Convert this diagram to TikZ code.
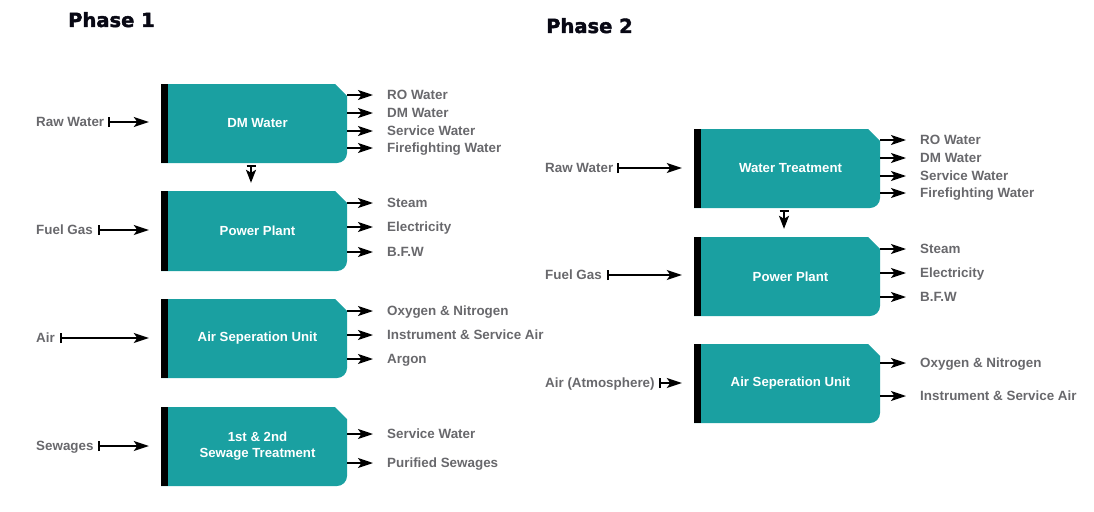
\documentclass[tikz,border=0pt]{standalone}
\usepackage{fontspec}
\setmainfont{Liberation Sans}
\newfontfamily\titlefont{DejaVu Sans}[BoldFeatures={FakeBold=2}]
\usetikzlibrary{arrows.meta}
\definecolor{boxteal}{RGB}{26,160,161}
\definecolor{lblgray}{RGB}{104,104,108}
\definecolor{titleblk}{RGB}{8,8,20}
\tikzset{
  lbl/.style={inner sep=0pt, anchor=west, text=lblgray, font=\fontsize{13.4}{16}\selectfont\bfseries, text height=9.6pt, text depth=0pt},
  boxtxt/.style={inner sep=0pt, text=white, font=\fontsize{13.2}{16}\selectfont\bfseries, align=center},
  ttl/.style={inner sep=0pt, anchor=west, text=titleblk, font=\fontsize{19.5}{22}\selectfont\titlefont\bfseries, text height=14pt, text depth=0pt},
  outarr/.style={line width=1.8pt, -{Stealth[length=15pt,width=10pt,inset=3.5pt]}},
  inarr/.style={line width=1.8pt, {Bar[width=10pt]}-{Stealth[length=15pt,width=10pt,inset=3.5pt]}},
  downarr/.style={line width=1.8pt, {Bar[width=9pt]}-{Stealth[length=13pt,width=10pt,inset=3pt]}}
}
% #1 name, #2 x0, #3 y0, #4 x1, #5 y1, #6 text
\newcommand{\procbox}[6]{%
  \fill[boxteal] (#2,#3) -- ({#4-12},#3) -- (#4,{#3+12}) [rounded corners=10pt] -- (#4,#5) [sharp corners] -- (#2,#5) -- cycle;
  \fill[black] (#2,#3) rectangle ({#2+7},#5);
  \node[boxtxt, minimum width={#4-#2-7}, minimum height={#5-#3}] (#1) at ({(#2+7+#4)/2},{(#3+#5)/2}) {#6};
}
\begin{document}
\begin{tikzpicture}[x=1pt,y=-1pt]
\useasboundingbox (0,0) rectangle (1094,511);
% titles
\node[ttl] (t1) at (68,20) {Phase 1};
\node[ttl] (t2) at (546,26) {Phase 2};

% ---------- Phase 1 ----------
\procbox{a1}{161}{84}{347}{163}{DM Water}
\procbox{a2}{161}{191}{347}{271}{Power Plant}
\procbox{a3}{161}{299}{347}{378}{Air Seperation Unit}
\procbox{a4}{161}{407}{347}{486}{1st \& 2nd\\Sewage Treatment}

\node[lbl] (ia1) at (36,122) {Raw Water};
\node[lbl] (ia2) at (36,230) {Fuel Gas};
\node[lbl] (ia3) at (36,338) {Air};
\node[lbl] (ia4) at (36,446) {Sewages};
\draw[inarr] ([xshift=4pt]ia1.east) -- ([xshift=-19pt]a1.west |- ia1.east);
\draw[inarr] ([xshift=5pt]ia2.east) -- ([xshift=-19pt]a2.west |- ia2.east);
\draw[inarr] ([xshift=5pt]ia3.east) -- ([xshift=-19pt]a3.west |- ia3.east);
\draw[inarr] ([xshift=4pt]ia4.east) -- ([xshift=-19pt]a4.west |- ia4.east);

\node[lbl] (oa11) at (387,95) {RO Water};
\node[lbl] (oa12) at (387,113) {DM Water};
\node[lbl] (oa13) at (387,131) {Service Water};
\node[lbl] (oa14) at (387,148) {Firefighting Water};
\node[lbl] (oa21) at (387,203) {Steam};
\node[lbl] (oa22) at (387,227) {Electricity};
\node[lbl] (oa23) at (387,252) {B.F.W};
\node[lbl] (oa31) at (387,311) {Oxygen \& Nitrogen};
\node[lbl] (oa32) at (387,335) {Instrument \& Service Air};
\node[lbl] (oa33) at (387,359) {Argon};
\node[lbl] (oa41) at (387,434) {Service Water};
\node[lbl] (oa42) at (387,463) {Purified Sewages};
\foreach \b/\o in {a1/oa11,a1/oa12,a1/oa13,a1/oa14,a2/oa21,a2/oa22,a2/oa23,a3/oa31,a3/oa32,a3/oa33,a4/oa41,a4/oa42}
  \draw[outarr] (\b.east |- \o.west) -- ([xshift=-14pt]\o.west);

\draw[downarr] ([xshift=-6.5pt,yshift=-1.5pt]a1.south) -- ([xshift=-6.5pt,yshift=8pt]a2.north);

% ---------- Phase 2 ----------
\procbox{b1}{694}{129}{880}{208}{Water Treatment}
\procbox{b2}{694}{237}{880}{316}{Power Plant}
\procbox{b3}{694}{344}{880}{423}{Air Seperation Unit}

\node[lbl] (ib1) at (545,168) {Raw Water};
\node[lbl] (ib2) at (545,275) {Fuel Gas};
\node[lbl] (ib3) at (545,383) {Air (Atmosphere)};
\draw[inarr] ([xshift=4pt]ib1.east) -- ([xshift=-19pt]b1.west |- ib1.east);
\draw[inarr] ([xshift=5pt]ib2.east) -- ([xshift=-19pt]b2.west |- ib2.east);
\draw[inarr] ([xshift=4pt]ib3.east) -- ([xshift=-19pt]b3.west |- ib3.east);

\node[lbl] (ob11) at (920,140) {RO Water};
\node[lbl] (ob12) at (920,158) {DM Water};
\node[lbl] (ob13) at (920,176) {Service Water};
\node[lbl] (ob14) at (920,193) {Firefighting Water};
\node[lbl] (ob21) at (920,249) {Steam};
\node[lbl] (ob22) at (920,273) {Electricity};
\node[lbl] (ob23) at (920,297) {B.F.W};
\node[lbl] (ob31) at (920,363) {Oxygen \& Nitrogen};
\node[lbl] (ob32) at (920,396) {Instrument \& Service Air};
\foreach \b/\o in {b1/ob11,b1/ob12,b1/ob13,b1/ob14,b2/ob21,b2/ob22,b2/ob23,b3/ob31,b3/ob32}
  \draw[outarr] (\b.east |- \o.west) -- ([xshift=-14pt]\o.west);

\draw[downarr] ([xshift=-6.5pt,yshift=-1.5pt]b1.south) -- ([xshift=-6.5pt,yshift=8pt]b2.north);
\end{tikzpicture}
\end{document}
